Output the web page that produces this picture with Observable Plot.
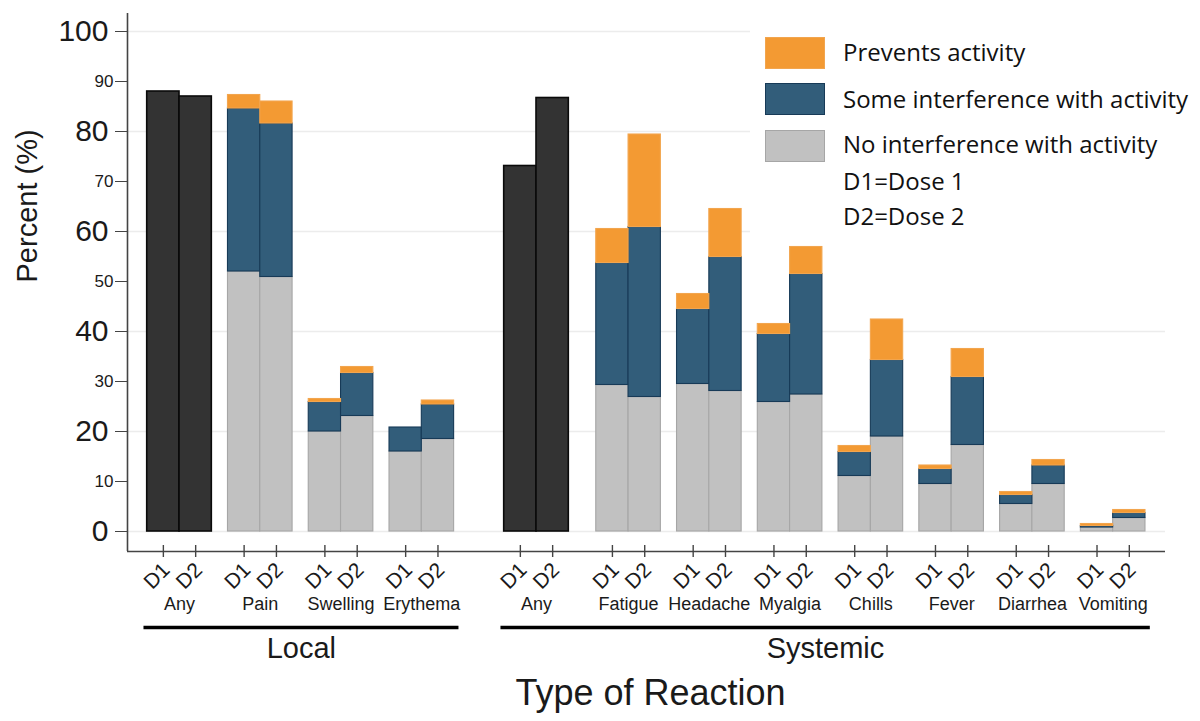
<!DOCTYPE html>
<html><head><meta charset="utf-8">
<script src="https://cdn.jsdelivr.net/npm/d3@7"></script>
<script src="https://cdn.jsdelivr.net/npm/@observablehq/plot@0.6"></script>
<style>
body{margin:0;background:#fff;}
#wrap{position:relative;width:1200px;height:721px;overflow:hidden;}
.legend{position:absolute;left:750px;top:20px;width:450px;height:218px;background:#fff;font-family:"Open Sans",sans-serif;font-size:24px;color:#111;}
.sw{position:absolute;left:15px;width:60px;height:32px;box-sizing:border-box;border:1.5px solid;}
.lt{position:absolute;left:93px;line-height:24px;white-space:nowrap;}
</style></head><body><div id="wrap"></div>
<script>
// ---- data ----
const localCats = ["Any", "Pain", "Swelling", "Erythema"];
const systemicCats = ["Any", "Fatigue", "Headache", "Myalgia", "Chills", "Fever", "Diarrhea", "Vomiting"];
const doses = ["D1", "D2"];
const panels = ["Local", "Systemic"];
const levels = ["No interference with activity", "Some interference with activity", "Prevents activity"];
const notes = ["D1=Dose 1", "D2=Dose 2"];
// "Any" reaction, [D1, D2]
const localAny = [88.0, 87.0];
const systemicAny = [73.1, 86.7];
// per category (excluding Any), [D1, D2] percentages of each severity level
const localNone = [[52.0, 50.9], [20.0, 23.1], [16.0, 18.5]];
const localSome = [[32.6, 30.7], [5.9, 8.6], [4.8, 6.9]];
const localPrevents = [[2.7, 4.4], [0.6, 1.2], [0.0, 0.8]];
const systemicNone = [[29.3, 26.9], [29.5, 28.1], [25.9, 27.4], [11.1, 19.0], [9.5, 17.3], [5.5, 9.5], [0.8, 2.7]];
const systemicSome = [[24.4, 34.0], [15.0, 26.8], [13.6, 24.1], [4.8, 15.3], [3.0, 13.6], [1.8, 3.7], [0.3, 1.0]];
const systemicPrevents = [[6.8, 18.5], [3.0, 9.6], [2.0, 5.4], [1.2, 8.1], [0.7, 5.6], [0.6, 1.1], [0.4, 0.6]];
const yMajor = [0, 20, 40, 60, 80, 100];
const yMinor = [10, 30, 50, 70, 90];

// ---- layout (bar units) ----
function groupStart(panel, c) {
  if (panel === "Local") return c * 2.5;
  return 11.05 + (c > 0 ? 2.85 + (c - 1) * 2.5 : 0);
}
const colors = {
  "Any": ["#333333", "#0a0a0a"],
  "No interference with activity": ["#c1c1c1", "#a6a6a6"],
  "Some interference with activity": ["#325d7a", "#173a57"],
  "Prevents activity": ["#f39a33", "#f2a54e"]
};
const bars = [];   // stacked segments
const ticks = [];  // one per bar
const groups = [];
function addPanel(panel, cats, any, none, some, prev) {
  cats.forEach((cat, c) => {
    const g = groupStart(panel, c);
    groups.push({panel, cat, center: g + 0.5, lo: g - 0.5, hi: g + 1.5});
    doses.forEach((dose, d) => {
      const pos = g + d;
      ticks.push({pos, dose});
      if (c === 0) {
        bars.push({pos, level: "Any", y1: 0, y2: any[d]});
      } else {
        const vals = [none[c - 1][d], some[c - 1][d], prev[c - 1][d]];
        let acc = 0;
        vals.forEach((v, k) => { bars.push({pos, level: levels[k], y1: acc, y2: acc + v}); acc += v; });
      }
    });
  });
}
addPanel("Local", localCats, localAny, localNone, localSome, localPrevents);
addPanel("Systemic", systemicCats, systemicAny, systemicNone, systemicSome, systemicPrevents);
const panelRows = panels.map(p => {
  const gs = groups.filter(g => g.panel === p);
  const lo = d3.min(gs, g => g.lo), hi = d3.max(gs, g => g.hi);
  return {panel: p, x1: lo - 0.1, x2: hi + 0.15, center: (lo + hi) / 2 + 0.02};
});

const xDom = [-1.11, 31.02];
const yDom = [-4, 103.6];
const font = "'Liberation Sans', Arial, sans-serif";
const ink = "#1a1a1a";

const barMarks = ["Any", ...levels].map(level => Plot.rect(bars.filter(b => b.level === level), {
  x1: b => b.pos - 0.5, x2: b => b.pos + 0.5, y1: "y1", y2: "y2",
  fill: colors[level][0], stroke: colors[level][1], strokeWidth: level === "Any" ? 1.6 : 1.1
}));

const chart = Plot.plot({
  width: 1200, height: 721,
  marginLeft: 127, marginRight: 35, marginTop: 13, marginBottom: 170,
  style: {fontFamily: font, background: "#fff", color: ink, overflow: "visible"},
  x: {type: "linear", domain: xDom, axis: null},
  y: {domain: yDom, axis: null},
  marks: [
    Plot.ruleY(yMajor, {stroke: "#ececec", strokeWidth: 1.6}),
    ...barMarks,
    Plot.ruleX([xDom[0]], {y1: yDom[0], y2: yDom[1], stroke: "#444", strokeWidth: 1.6}),
    Plot.ruleY([yDom[0]], {x1: xDom[0], x2: xDom[1], stroke: "#444", strokeWidth: 1.6}),
    Plot.axisY(yMajor, {tickSize: 12, tickPadding: 7, fontSize: 30, stroke: "#444", fill: ink, label: null}),
    Plot.axisY(yMinor, {tickSize: 12, tickPadding: 2, fontSize: 17, stroke: "#444", fill: ink, label: null}),
    Plot.text(["Percent (%)"], {frameAnchor: "left", rotate: -90, dx: -100, fontSize: 29, fill: ink}),
    Plot.ruleX(ticks, {x: "pos", y1: -5.2, y2: -2.8, stroke: "#444", strokeWidth: 1.4}),
    Plot.text(ticks, {x: "pos", y: -7.0, dx: 3, text: "dose", rotate: -45, textAnchor: "end", lineAnchor: "middle", fontSize: 21, fill: ink}),
    Plot.text(groups, {x: "center", y: -14.6, text: "cat", lineAnchor: "middle", fontSize: 18, fill: ink}),
    Plot.ruleY(panelRows, {x1: "x1", x2: "x2", y: -19.2, stroke: "#000", strokeWidth: 3.5}),
    Plot.text(panelRows, {x: "center", y: -23.4, text: "panel", lineAnchor: "middle", fontSize: 29, fill: ink}),
    Plot.text(["Type of Reaction"], {frameAnchor: "bottom", dy: 142, dx: 4, lineAnchor: "middle", fontSize: 36, fill: ink})
  ]
});
const wrap = document.getElementById("wrap");
wrap.appendChild(chart);

// legend
const leg = document.createElement("div");
leg.className = "legend";
const legendOrder = [...levels].reverse();
const swTops = [17, 63, 110];
const textCenters = [33, 80, 125, 162, 197];
legendOrder.forEach((lvl, i) => {
  const s = document.createElement("div");
  s.className = "sw";
  s.style.top = swTops[i] + "px";
  s.style.background = colors[lvl][0];
  s.style.borderColor = colors[lvl][1];
  leg.appendChild(s);
});
[...legendOrder, ...notes].forEach((t, i) => {
  const el = document.createElement("div");
  el.className = "lt";
  el.style.top = (textCenters[i] - 13) + "px";
  el.textContent = t;
  leg.appendChild(el);
});
wrap.appendChild(leg);
</script></body></html>
